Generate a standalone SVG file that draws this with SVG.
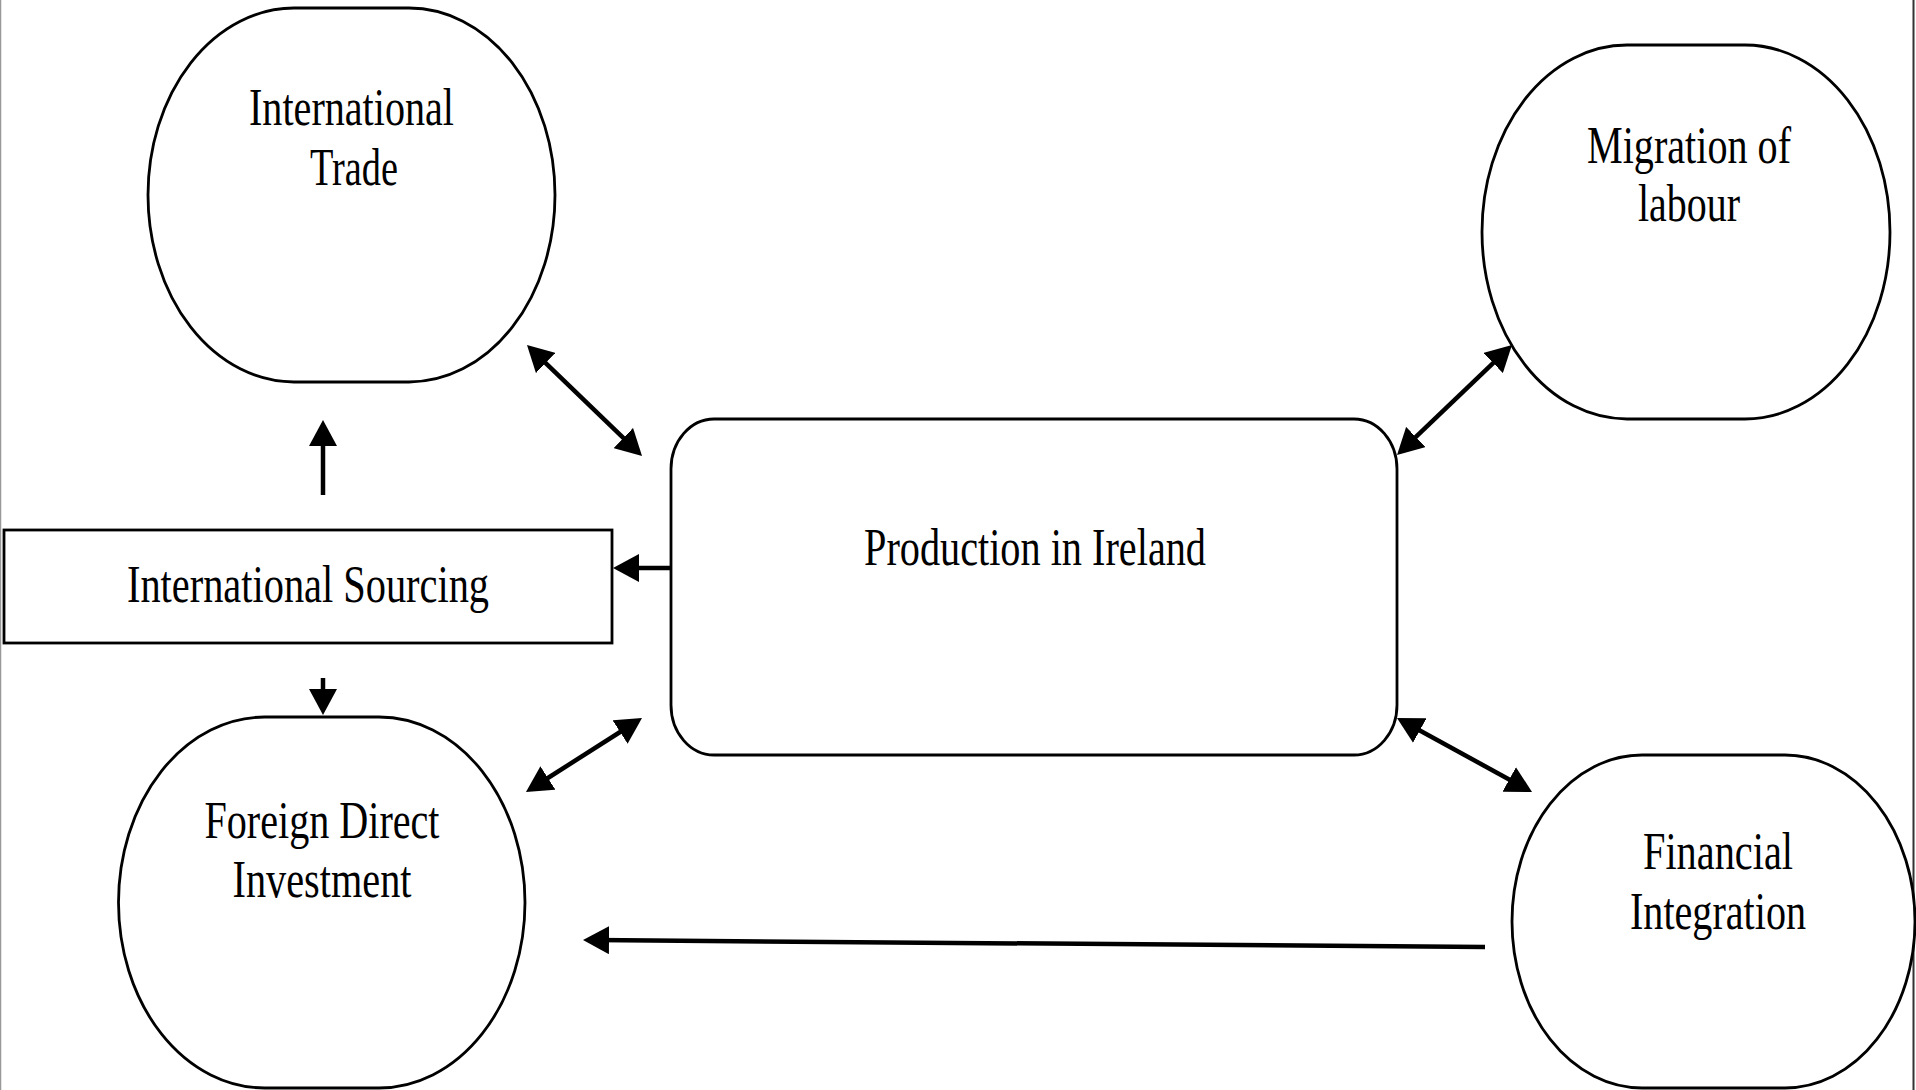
<svg xmlns="http://www.w3.org/2000/svg" width="1916" height="1090" viewBox="0 0 1916 1090">
<style>
.shape{fill:#fff;stroke:#000;stroke-width:2.8}
.lbl{font-family:"Liberation Serif","Times New Roman",serif;font-size:53px;fill:#000;text-anchor:middle}
.conn{stroke:#000;stroke-width:4.5;fill:none}
.both{marker-start:url(#ah);marker-end:url(#ah)}
.one{marker-end:url(#ah)}
</style>
<defs>
<marker id="ah" viewBox="0 0 26 28" refX="14" refY="14" markerWidth="26" markerHeight="28" markerUnits="userSpaceOnUse" orient="auto-start-reverse">
<path d="M0,0 L26,14 L0,28 z" fill="#000"/>
</marker>
</defs>
<rect width="1916" height="1090" fill="#fff"/>
<line x1="0.5" y1="0" x2="0.5" y2="1090" stroke="#999" stroke-width="1.5"/>
<line x1="1913.5" y1="0" x2="1913.5" y2="1090" stroke="#333" stroke-width="2"/>

<g id="trade">
<rect class="shape" x="148" y="8" width="407" height="374" rx="146" ry="187"/>
<text class="lbl" x="351.5" y="125" textLength="205" lengthAdjust="spacingAndGlyphs">International</text>
<text class="lbl" x="354" y="185" textLength="88" lengthAdjust="spacingAndGlyphs">Trade</text>
</g>

<g id="migration">
<rect class="shape" x="1482" y="45" width="408" height="374" rx="145" ry="187"/>
<text class="lbl" x="1689" y="163" textLength="204" lengthAdjust="spacingAndGlyphs">Migration of</text>
<text class="lbl" x="1689" y="221" textLength="102" lengthAdjust="spacingAndGlyphs">labour</text>
</g>

<g id="production">
<rect class="shape" x="671" y="419" width="726" height="336" rx="43" ry="50"/>
<text class="lbl" x="1035" y="565" textLength="342" lengthAdjust="spacingAndGlyphs">Production in Ireland</text>
</g>

<g id="sourcing">
<rect class="shape" x="4" y="530" width="608" height="113"/>
<text class="lbl" x="308" y="602" textLength="362" lengthAdjust="spacingAndGlyphs">International Sourcing</text>
</g>

<g id="fdi">
<rect class="shape" x="118.5" y="717" width="406.5" height="371" rx="146" ry="185.5"/>
<text class="lbl" x="322" y="838" textLength="235" lengthAdjust="spacingAndGlyphs">Foreign Direct</text>
<text class="lbl" x="322" y="897" textLength="179" lengthAdjust="spacingAndGlyphs">Investment</text>
</g>

<g id="financial">
<rect class="shape" x="1512" y="755" width="403" height="333" rx="130" ry="166.5"/>
<text class="lbl" x="1718" y="869" textLength="150" lengthAdjust="spacingAndGlyphs">Financial</text>
<text class="lbl" x="1718" y="929" textLength="176" lengthAdjust="spacingAndGlyphs">Integration</text>
</g>

<g id="connectors">
<line class="conn both" x1="535.6" y1="353.3" x2="633.4" y2="447.7"/>
<line class="conn one" x1="323" y1="495" x2="323" y2="432"/>
<line class="conn one" x1="671" y1="568" x2="625" y2="568"/>
<line class="conn one" x1="323" y1="678" x2="323" y2="703"/>
<line class="conn both" x1="536.1" y1="785.5" x2="631.9" y2="724.5"/>
<line class="conn both" x1="1405.7" y1="446.7" x2="1503.3" y2="353.3"/>
<line class="conn both" x1="1407.5" y1="723.8" x2="1521.5" y2="786.2"/>
<line class="conn one" x1="1485" y1="947" x2="595" y2="940.1"/>
</g>
</svg>
